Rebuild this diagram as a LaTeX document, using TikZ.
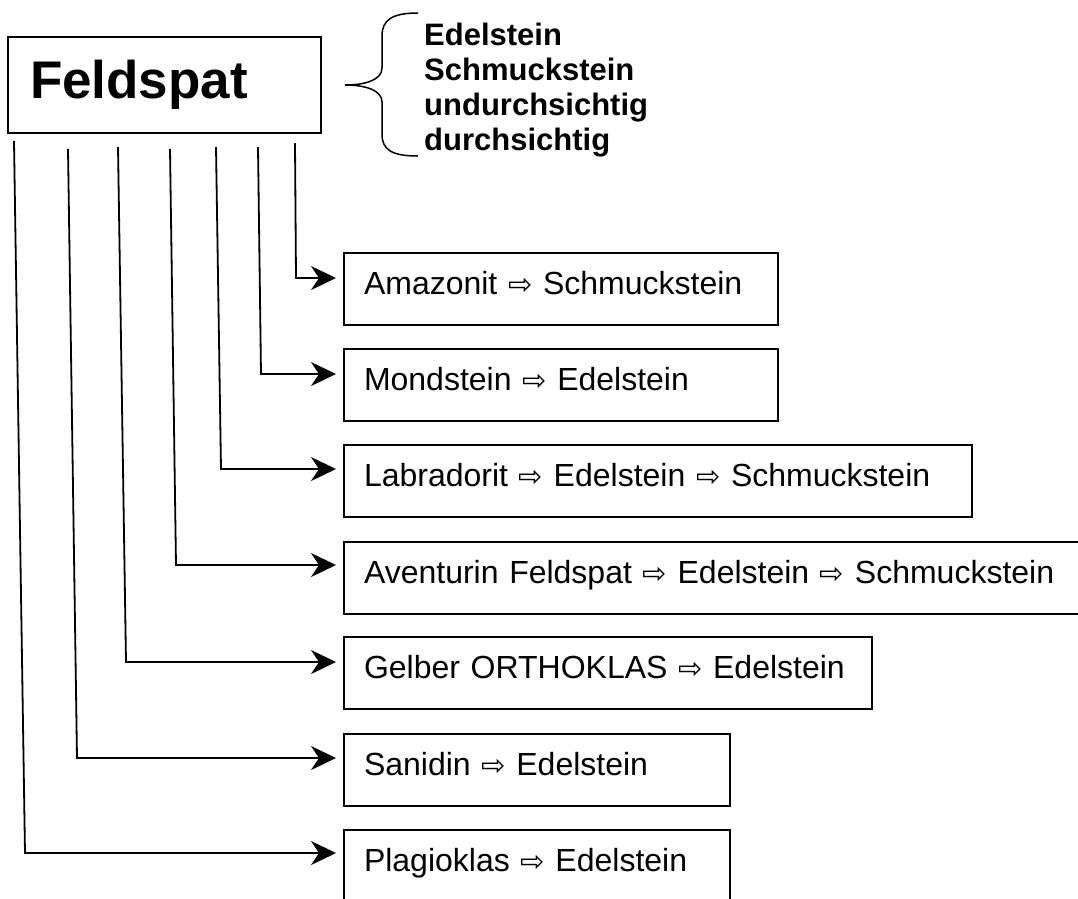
\documentclass[tikz,border=0pt]{standalone}
\usepackage{fontspec}
\setmainfont{Liberation Sans}
\newfontfamily\dejavu{DejaVu Sans}
\usetikzlibrary{arrows.meta}
\newcommand{\rarr}{{\dejavu\fontsize{29pt}{29pt}\selectfont ⇨}}
\tikzset{
  itembox/.style={draw, line width=1.8pt, anchor=north west, outer sep=0pt,
    inner xsep=20pt, inner ysep=0pt, text height=41pt, text depth=31pt,
    minimum height=72pt, text width=#1, font=\fontsize{32pt}{36pt}\selectfont, align=left},
  link/.style={line width=1.8pt, -{Stealth[length=25pt, width=24pt, inset=8pt]}, shorten >=8pt},
}
\begin{document}
\begin{tikzpicture}[x=1pt, y=-1pt]
\useasboundingbox (0,0) rectangle (1078,898);
\clip (0,0) rectangle (1078,898);
% main box
\node[draw, line width=1.8pt, anchor=north west, outer sep=0pt, minimum width=313pt,
  minimum height=96pt, inner xsep=22pt, text width=269pt, align=left,
  font=\bfseries\fontsize{53pt}{58pt}\selectfont] (feld) at (8,37) {Feldspat};
% brace
\draw[line width=1.5pt] (418,13) .. controls (392,13) and (382,20) .. (382,36) -- (382,68)
  .. controls (382,80) and (365,85) .. (345,85)
  .. controls (365,85) and (382,90) .. (382,102) -- (382,134)
  .. controls (382,150) and (392,156) .. (418,156);
\node[anchor=north west, inner sep=0pt, align=left,
  font=\bfseries\fontsize{31pt}{35pt}\selectfont] (kinds) at (424,23)
  {Edelstein\\Schmuckstein\\undurchsichtig\\durchsichtig};
% boxes
\node[itembox=394pt] (b1) at (344,253) {Amazonit \rarr{} Schmuckstein};
\node[itembox=394pt] (b2) at (344,349) {Mondstein \rarr{} Edelstein};
\node[itembox=588pt] (b3) at (344,445) {Labradorit \rarr{} Edelstein \rarr{} Schmuckstein};
\node[itembox=720pt] (b4) at (344,542) {Aventurin Feldspat \rarr{} Edelstein \rarr{} Schmuckstein};
\node[itembox=488pt] (b5) at (344,637) {Gelber ORTHOKLAS \rarr{} Edelstein};
\node[itembox=346pt] (b6) at (344,734) {Sanidin \rarr{} Edelstein};
\node[itembox=346pt] (b7) at (344,830) {Plagioklas \rarr{} Edelstein};
% connector coordinates
\coordinate (t1) at (295,143); \coordinate (c1) at (296,278);
\coordinate (t2) at (258,147); \coordinate (c2) at (261,374);
\coordinate (t3) at (216,147); \coordinate (c3) at (221,469);
\coordinate (t4) at (170,149); \coordinate (c4) at (176,565);
\coordinate (t5) at (118,147); \coordinate (c5) at (126,662);
\coordinate (t6) at (68,149);  \coordinate (c6) at (77,758);
\coordinate (t7) at (14,141);  \coordinate (c7) at (25,853);
\draw[link] (t1) -- (c1) -- (c1 -| b1.west);
\draw[link] (t2) -- (c2) -- (c2 -| b2.west);
\draw[link] (t3) -- (c3) -- (c3 -| b3.west);
\draw[link] (t4) -- (c4) -- (c4 -| b4.west);
\draw[link] (t5) -- (c5) -- (c5 -| b5.west);
\draw[link] (t6) -- (c6) -- (c6 -| b6.west);
\draw[link] (t7) -- (c7) -- (c7 -| b7.west);
\end{tikzpicture}
\end{document}
